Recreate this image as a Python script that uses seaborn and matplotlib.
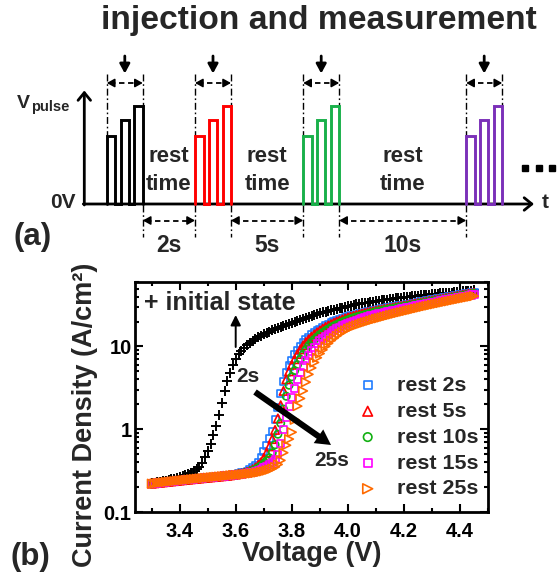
import numpy as np
import pandas as pd
import matplotlib
matplotlib.use("Agg")
import matplotlib.pyplot as plt
import seaborn as sns
from matplotlib.ticker import FixedLocator, MultipleLocator, LogLocator, NullFormatter

# ---------------- data ----------------
voltage = [
    3.30, 3.31, 3.32, 3.33, 3.34, 3.35, 3.36, 3.37, 3.38, 3.39,
    3.40, 3.41, 3.42, 3.43, 3.44, 3.45, 3.46, 3.47, 3.48, 3.49,
    3.50, 3.51, 3.52, 3.53, 3.54, 3.55, 3.56, 3.57, 3.58, 3.59,
    3.60, 3.61, 3.62, 3.63, 3.64, 3.65, 3.66, 3.67, 3.68, 3.69,
    3.70, 3.71, 3.72, 3.73, 3.74, 3.75, 3.76, 3.77, 3.78, 3.79,
    3.80, 3.81, 3.82, 3.83, 3.84, 3.85, 3.86, 3.87, 3.88, 3.89,
    3.90, 3.91, 3.92, 3.93, 3.94, 3.95, 3.96, 3.97, 3.98, 3.99,
    4.00, 4.01, 4.02, 4.03, 4.04, 4.05, 4.06, 4.07, 4.08, 4.09,
    4.10, 4.11, 4.12, 4.13, 4.14, 4.15, 4.16, 4.17, 4.18, 4.19,
    4.20, 4.21, 4.22, 4.23, 4.24, 4.25, 4.26, 4.27, 4.28, 4.29,
    4.30, 4.31, 4.32, 4.33, 4.34, 4.35, 4.36, 4.37, 4.38, 4.39,
    4.40, 4.41, 4.42, 4.43, 4.44, 4.45,
]

initial_state = [
    0.222, 0.225, 0.228, 0.231, 0.234, 0.238, 0.242, 0.247, 0.252, 0.258,
    0.264, 0.270, 0.278, 0.287, 0.298, 0.310, 0.330, 0.350, 0.390, 0.460,
    0.550, 0.670, 0.840, 1.08, 1.50, 2.10, 2.90, 3.80, 4.80, 5.90,
    7.00, 8.00, 8.90, 9.70, 10.4, 11.1, 11.7, 12.3, 12.9, 13.5,
    14.1, 14.6, 15.1, 15.6, 16.1, 16.6, 17.1, 17.6, 18.1, 18.6,
    19.1, 19.7, 20.3, 20.9, 21.5, 22.1, 22.7, 23.3, 23.9, 24.5,
    25.1, 25.7, 26.2, 26.8, 27.3, 27.9, 28.4, 29.0, 29.5, 30.1,
    30.6, 31.1, 31.6, 32.1, 32.6, 33.0, 33.5, 33.9, 34.4, 34.8,
    35.2, 35.6, 36.0, 36.4, 36.8, 37.2, 37.6, 38.0, 38.4, 38.8,
    39.2, 39.5, 39.9, 40.2, 40.6, 40.9, 41.3, 41.6, 41.9, 42.3,
    42.6, 42.9, 43.2, 43.6, 43.9, 44.2, 44.5, 44.8, 45.2, 45.5,
    45.8, 46.1, 46.4, 46.8, 47.1, 47.4,
]

# low-voltage part (3.30-3.59 V) where all rest curves lie on top of each other
common_foot = [
    0.220, 0.222, 0.224, 0.226, 0.228, 0.230, 0.232, 0.234, 0.236, 0.238,
    0.240, 0.242, 0.244, 0.246, 0.248, 0.250, 0.252, 0.254, 0.256, 0.258,
    0.260, 0.262, 0.264, 0.266, 0.268, 0.270, 0.272, 0.274, 0.277, 0.280,
]

rest_2s = common_foot + [
    0.285, 0.290, 0.296, 0.303, 0.312, 0.325, 0.340, 0.360, 0.400, 0.460,
    0.540, 0.640, 0.770, 0.950, 1.30, 1.85, 2.70, 3.80, 4.80, 5.80,
    6.80, 7.90, 9.00, 10.1, 11.1, 12.0, 12.9, 13.8, 14.6, 15.4,
    16.2, 17.0, 17.8, 18.5, 19.2, 19.9, 20.5, 21.1, 21.7, 22.3,
    22.9, 23.4, 23.9, 24.4, 24.9, 25.3, 25.8, 26.2, 26.7, 27.1,
    27.5, 27.9, 28.4, 28.8, 29.2, 29.6, 30.0, 30.4, 30.8, 31.2,
    31.6, 32.0, 32.5, 33.0, 33.4, 33.9, 34.4, 34.9, 35.4, 35.9,
    36.4, 36.9, 37.4, 37.9, 38.5, 39.0, 39.6, 40.1, 40.7, 41.3,
    41.9, 42.5, 43.1, 43.7, 44.3, 45.0,
]

rest_5s = common_foot + [
    0.283, 0.287, 0.292, 0.298, 0.305, 0.315, 0.328, 0.345, 0.370, 0.400,
    0.450, 0.520, 0.620, 0.760, 0.980, 1.35, 1.95, 2.90, 4.00, 5.00,
    6.00, 7.00, 8.10, 9.20, 10.3, 11.3, 12.2, 13.1, 14.0, 14.8,
    15.6, 16.4, 17.2, 17.9, 18.6, 19.3, 20.0, 20.6, 21.2, 21.8,
    22.4, 22.9, 23.4, 23.9, 24.4, 24.9, 25.3, 25.8, 26.2, 26.6,
    27.0, 27.5, 27.9, 28.3, 28.7, 29.1, 29.5, 29.9, 30.3, 30.7,
    31.1, 31.5, 32.0, 32.4, 32.9, 33.4, 33.9, 34.4, 34.9, 35.4,
    35.9, 36.4, 36.9, 37.4, 38.0, 38.5, 39.1, 39.6, 40.2, 40.8,
    41.4, 42.0, 42.6, 43.2, 43.8, 44.5,
]

rest_10s = common_foot + [
    0.282, 0.285, 0.289, 0.294, 0.300, 0.307, 0.316, 0.328, 0.343, 0.360,
    0.385, 0.415, 0.450, 0.520, 0.650, 0.870, 1.18, 1.75, 2.50, 3.40,
    4.30, 5.10, 6.00, 7.00, 8.00, 9.10, 10.2, 11.2, 12.1, 13.0,
    13.9, 14.7, 15.5, 16.2, 17.0, 17.7, 18.4, 19.1, 19.8, 20.4,
    21.0, 21.6, 22.2, 22.7, 23.2, 23.7, 24.2, 24.7, 25.2, 25.7,
    26.1, 26.6, 27.0, 27.5, 27.9, 28.3, 28.7, 29.1, 29.5, 29.9,
    30.3, 30.8, 31.2, 31.7, 32.1, 32.6, 33.1, 33.6, 34.1, 34.6,
    35.1, 35.6, 36.1, 36.6, 37.1, 37.6, 38.2, 38.7, 39.3, 39.9,
    40.5, 41.1, 41.7, 42.3, 42.9, 43.6,
]

rest_15s = common_foot + [
    0.281, 0.284, 0.287, 0.290, 0.294, 0.298, 0.303, 0.310, 0.318, 0.328,
    0.340, 0.355, 0.372, 0.395, 0.430, 0.500, 0.680, 0.980, 1.40, 1.88,
    2.42, 3.10, 4.00, 4.80, 5.80, 6.80, 7.80, 8.80, 9.80, 10.8,
    11.7, 12.5, 13.3, 14.1, 14.9, 15.6, 16.3, 17.0, 17.7, 18.4,
    19.0, 19.6, 20.2, 20.8, 21.4, 21.9, 22.4, 22.9, 23.4, 23.9,
    24.4, 24.8, 25.3, 25.7, 26.2, 26.6, 27.1, 27.5, 28.0, 28.4,
    28.9, 29.3, 29.8, 30.3, 30.8, 31.3, 31.8, 32.3, 32.8, 33.3,
    33.8, 34.3, 34.8, 35.4, 35.9, 36.5, 37.0, 37.6, 38.2, 38.8,
    39.4, 40.0, 40.6, 41.2, 41.8, 42.5,
]

rest_25s = common_foot + [
    0.280, 0.282, 0.284, 0.286, 0.288, 0.290, 0.293, 0.296, 0.300, 0.305,
    0.310, 0.317, 0.325, 0.335, 0.350, 0.375, 0.420, 0.520, 0.640, 0.760,
    0.920, 1.30, 1.90, 2.35, 2.90, 3.70, 4.60, 5.50, 6.40, 7.30,
    8.20, 9.10, 10.0, 10.9, 11.8, 12.6, 13.4, 14.2, 14.9, 15.6,
    16.3, 16.9, 17.5, 18.0, 18.5, 19.0, 19.5, 20.0, 20.5, 21.0,
    21.5, 21.9, 22.4, 22.9, 23.4, 23.9, 24.4, 24.9, 25.4, 25.9,
    26.4, 26.9, 27.4, 27.9, 28.5, 29.0, 29.6, 30.1, 30.7, 31.2,
    31.8, 32.3, 32.9, 33.4, 34.0, 34.6, 35.1, 35.7, 36.3, 36.9,
    37.5, 38.1, 38.7, 39.3, 39.9, 40.5,
]

series_names = ["rest 2s", "rest 5s", "rest 10s", "rest 15s", "rest 25s"]
series_values = [rest_2s, rest_5s, rest_10s, rest_15s, rest_25s]

x_ticks = [3.4, 3.6, 3.8, 4.0, 4.2, 4.4]
y_ticks = [0.1, 1, 10]
y_tick_labels = ["0.1", "1", "10"]

rest_time_labels = ["2s", "5s", "10s"]

# ---------------- styles ----------------
series_colors = ["#1F7BFF", "#FF0000", "#12B012", "#FF00FF", "#FF6A00"]
series_markers = ["s", "^", "o", "s", ">"]
series_sizes = [26, 36, 28, 26, 38]
pulse_colors = ["black", "#FF0000", "#19B04A", "#7B30B8"]

sns.set_style("ticks")
plt.rcParams["font.family"] = ["Liberation Sans", "DejaVu Sans"]
plt.rcParams["font.weight"] = "bold"
plt.rcParams["axes.labelweight"] = "bold"

W, H = 558, 576
fig = plt.figure(figsize=(W / 100, H / 100), dpi=100)
ax = fig.add_axes([135 / W, 1 - 512 / H, 353 / W, 230 / H])
ann = fig.add_axes([0, 0, 1, 1], zorder=10)
ann.set_xlim(0, W)
ann.set_ylim(H, 0)
ann.axis("off")

# ---------------- panel (b): J-V curves ----------------
frames = [pd.DataFrame({"Voltage": voltage, "J": initial_state, "series": "initial state"})]
for name, vals in zip(series_names, series_values):
    frames.append(pd.DataFrame({"Voltage": voltage, "J": vals, "series": name}))
df = pd.concat(frames, ignore_index=True)

sns.scatterplot(data=df[df["series"] == "initial state"], x="Voltage", y="J",
                marker="+", color="black", s=44, linewidth=1.4, ax=ax, legend=False)
for name, col, mk, sz in zip(series_names, series_colors, series_markers, series_sizes):
    sns.scatterplot(data=df[df["series"] == name], x="Voltage", y="J",
                    marker=mk, color=col, facecolor="none", edgecolor=col,
                    s=sz, linewidth=1.2, ax=ax, label=name)

ax.set_yscale("log")
ax.set_xlim(3.24, 4.50)
ax.set_ylim(0.1, 60)
ax.xaxis.set_major_locator(FixedLocator(x_ticks))
ax.set_xticklabels([f"{t:.1f}" for t in x_ticks])
ax.xaxis.set_minor_locator(MultipleLocator(0.1))
ax.yaxis.set_major_locator(FixedLocator(y_ticks))
ax.set_yticklabels(y_tick_labels)
ax.yaxis.set_minor_locator(LogLocator(base=10, subs=np.arange(2, 10)))
ax.yaxis.set_minor_formatter(NullFormatter())
ax.tick_params(which="both", direction="in", top=True, right=True, width=1.5,
               labelsize=14.5, color="black", labelcolor="black")
ax.tick_params(which="major", length=5.5)
ax.tick_params(which="minor", length=3)
ax.tick_params(axis="x", pad=7.0)
ax.tick_params(axis="y", pad=2.5)
for sp in ax.spines.values():
    sp.set_linewidth(2.0)
    sp.set_color("black")

ax.set_xlabel("Voltage (V)", fontsize=19.5, fontweight="bold")
ax.xaxis.label.set_va("center")
ax.xaxis.set_label_coords((311.7 - 135) / 353, (512 - 554) / 230)
ax.set_ylabel("Current Density (A/cm²)", fontsize=19.5, fontweight="bold")
ax.yaxis.label.set_va("center")
ax.yaxis.set_label_coords((85 - 135) / 353, (512 - 415) / 230)

ax.legend(loc="upper left", bbox_to_anchor=(357 / W, 1 - 376 / H),
          bbox_transform=fig.transFigure, frameon=False,
          prop={"size": 15.4, "weight": "bold"}, handlelength=1.0,
          handletextpad=0.85, labelspacing=0.32, borderpad=0.0,
          borderaxespad=0.0, markerscale=1.15)

ann.text(144, 303, "+ initial state", ha="left", va="center", fontsize=18)
ann.annotate("", xy=(235.7, 315), xytext=(235.7, 347),
             arrowprops=dict(arrowstyle="-|>,head_length=0.6,head_width=0.3",
                             lw=1.4, color="black", mutation_scale=10,
                             shrinkA=0, shrinkB=0))
ann.text(248, 377, "2s", ha="center", va="center", fontsize=15)
ann.annotate("", xy=(331, 445), xytext=(255, 392),
             arrowprops=dict(arrowstyle="simple,head_length=0.55,head_width=0.6,tail_width=0.22",
                             fc="black", ec="black", lw=0, mutation_scale=20,
                             shrinkA=0, shrinkB=0))
ann.text(331.7, 460, "25s", ha="center", va="center", fontsize=15)
ann.text(30, 557, "(b)", ha="center", va="center", fontsize=22.5)

# ---------------- panel (a): pulse scheme ----------------
base_y = 204.0
axis_x = 84.3
amps = [68, 84, 98]          # three ramped pulses, pixel heights
pulse_w, pulse_gap = 8.5, 5.25
group_w = 3 * pulse_w + 2 * pulse_gap
group_starts = [106.8, 195.0, 303.2, 466.2]

head_open = "->,head_length=0.55,head_width=0.45"
ann.annotate("", xy=(axis_x, 90.5), xytext=(axis_x, base_y + 1),
             arrowprops=dict(arrowstyle=head_open, lw=2, color="black",
                             mutation_scale=10, shrinkA=0, shrinkB=0))
ann.annotate("", xy=(534, base_y), xytext=(axis_x - 1, base_y),
             arrowprops=dict(arrowstyle=head_open, lw=2, color="black",
                             mutation_scale=10, shrinkA=0, shrinkB=0))

dashdot = (0, (5, 2, 1.2, 2))
small_head = "-|>,head_length=0.45,head_width=0.25"


def dashed_double_arrow(x1, x2, y):
    ann.plot([x1 + 3, x2 - 3], [y, y], color="black", lw=1.3,
             linestyle=(0, (3, 2)), solid_capstyle="butt")
    ann.annotate("", xy=(x1, y), xytext=(x1 + 6, y),
                 arrowprops=dict(arrowstyle=small_head, lw=1.2, color="black",
                                 mutation_scale=10, shrinkA=0, shrinkB=0))
    ann.annotate("", xy=(x2, y), xytext=(x2 - 6, y),
                 arrowprops=dict(arrowstyle=small_head, lw=1.2, color="black",
                                 mutation_scale=10, shrinkA=0, shrinkB=0))


for start, col in zip(group_starts, pulse_colors):
    xs, ys = [], []
    x = start
    for k, a in enumerate(amps):
        xs += [x, x, x + pulse_w, x + pulse_w]
        ys += [base_y, base_y - a, base_y - a, base_y]
        x += pulse_w + pulse_gap
    ann.plot(xs, ys, color=col, lw=2.1, solid_joinstyle="miter", zorder=3)
    end = start + group_w
    # injection & measurement window marks
    ann.plot([start, start], [74, base_y - amps[0]], color="black", lw=1.0, linestyle=dashdot)
    ann.plot([end, end], [74, base_y - amps[-1]], color="black", lw=1.0, linestyle=dashdot)
    dashed_double_arrow(start, end, 83)
    ann.annotate("", xy=(start + group_w / 2, 73.5), xytext=(start + group_w / 2, 56),
                 arrowprops=dict(arrowstyle="-|>,head_length=0.55,head_width=0.3",
                                 lw=2, color="black", mutation_scale=10,
                                 shrinkA=0, shrinkB=0))

for i, lab in enumerate(rest_time_labels):
    g_end = group_starts[i] + group_w
    g_next = group_starts[i + 1]
    cx = (g_end + g_next) / 2
    ann.plot([g_end, g_end], [base_y + 1, 237], color="black", lw=1.0, linestyle=dashdot)
    ann.plot([g_next, g_next], [base_y + 1, 237], color="black", lw=1.0, linestyle=dashdot)
    dashed_double_arrow(g_end, g_next, 220.5)
    ann.text(cx, 245.5, lab, ha="center", va="center", fontsize=16.5)
    ann.text(cx, 156.6, "rest", ha="center", va="center", fontsize=16)
    ann.text(cx, 185, "time", ha="center", va="center", fontsize=16)

ann.plot([525, 538.5, 552], [167.5, 167.5, 167.5], linestyle="none", marker="s",
         color="black", ms=5)
ann.text(318.5, 21, "injection and measurement", ha="center", va="center", fontsize=24.2)
ann.text(17, 103, "V", ha="left", va="center", fontsize=14)
ann.text(31.5, 107.5, "pulse", ha="left", va="center", fontsize=10.5)
ann.text(75.5, 202, "0V", ha="right", va="center", fontsize=15)
ann.text(545, 203, "t", ha="center", va="center", fontsize=15)
ann.text(33, 237, "(a)", ha="center", va="center", fontsize=22.5)

fig.savefig("out.png", dpi=100)
